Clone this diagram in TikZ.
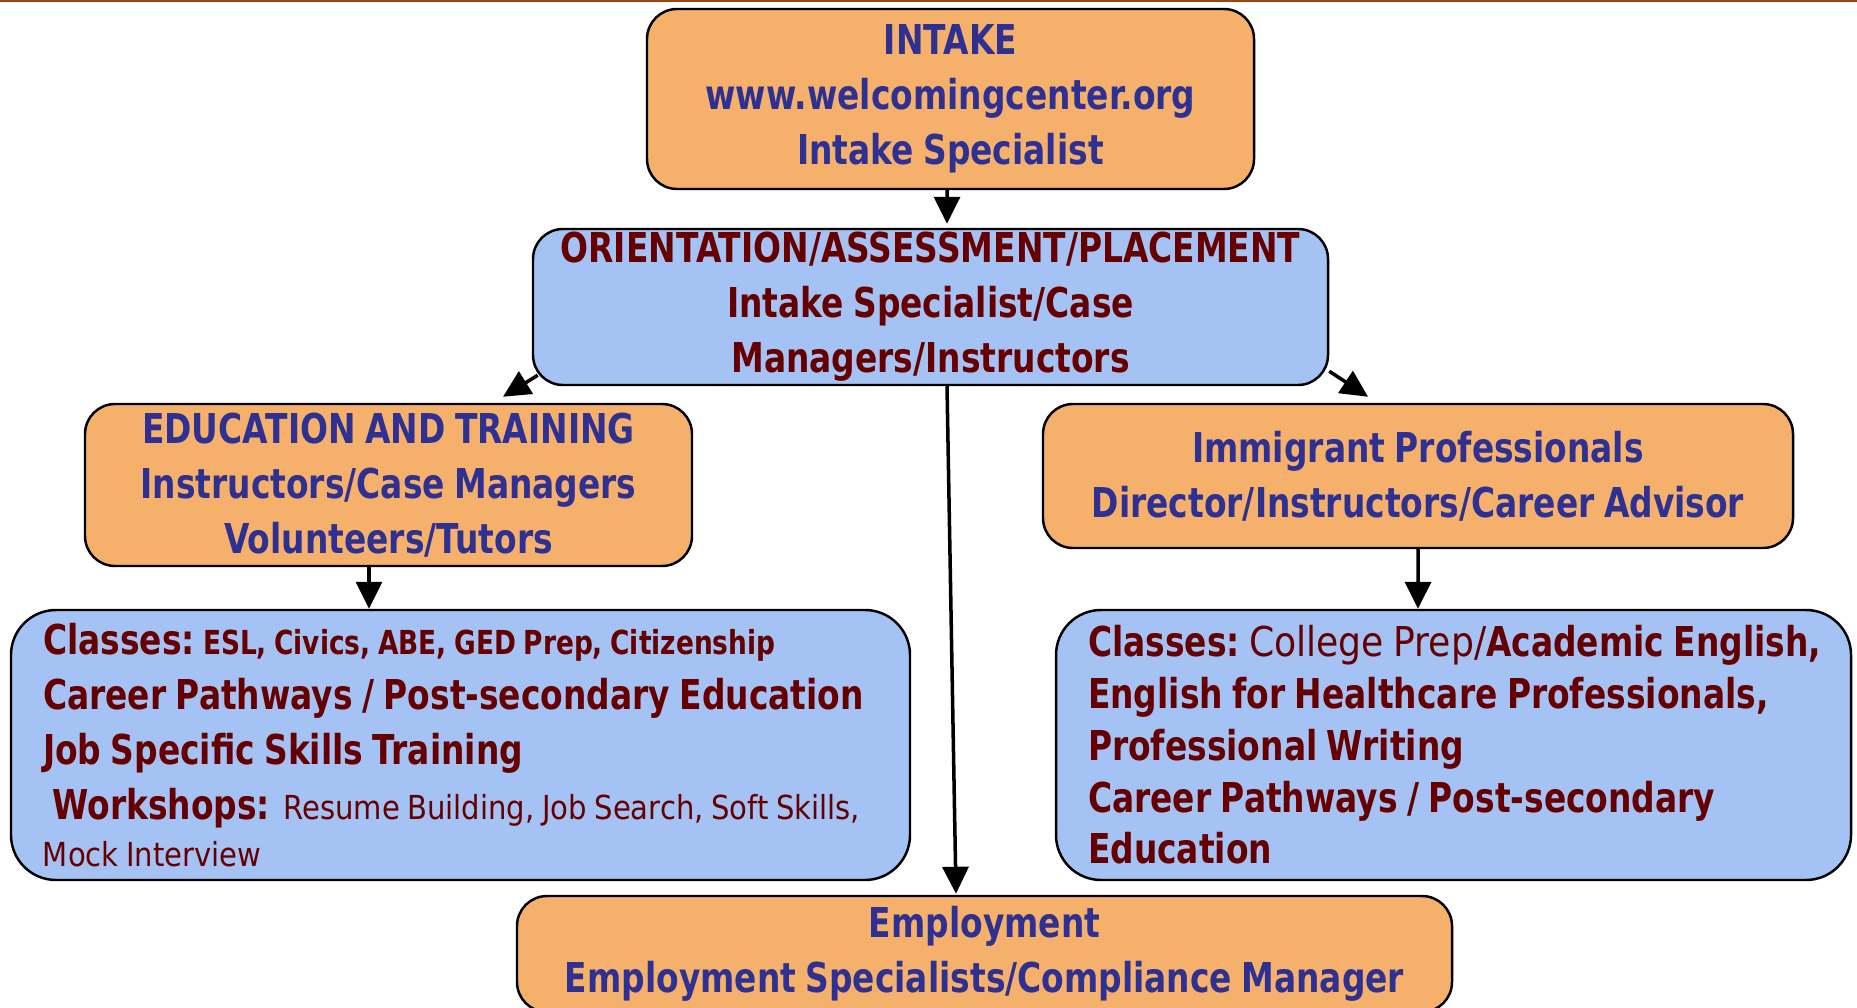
\documentclass[tikz,border=0pt]{standalone}
\usepackage{fontspec}
\setmainfont{DejaVu Sans}[WordSpace=0.82,
    UprightFeatures={FakeStretch=0.88},
    BoldFeatures={FakeStretch=0.80}]
\usetikzlibrary{arrows.meta,positioning,calc}
\definecolor{boxorange}{RGB}{245,177,108}
\definecolor{boxblue}{RGB}{164,194,244}
\definecolor{navytext}{RGB}{46,49,146}
\definecolor{maroontext}{RGB}{102,0,0}
\definecolor{rulebrown}{RGB}{150,72,20}
\newcommand{\bigtxt}{\fontsize{11.7pt}{15.6pt}\selectfont\bfseries}
\newcommand{\smalltxt}{\fontsize{9.4pt}{15.6pt}\selectfont}
\tikzset{
    %Define standard arrow tip
    >={Triangle[length=2.7mm,width=2.6mm]},
    %Define style for boxes
    orangebox/.style={
           rectangle, rounded corners=3mm,
           draw=black, line width=0.7pt,
           fill=boxorange, text=navytext,
           align=center, font=\bigtxt, inner sep=0pt},
    bluebox/.style={
           rectangle, rounded corners=3mm,
           draw=black, line width=0.7pt,
           fill=boxblue, text=maroontext,
           align=center, font=\bigtxt, inner sep=0pt},
    listbox/.style={
           bluebox, rounded corners=4.5mm, align=flush left,
           inner xsep=3.2mm,
           execute at begin node={\hyphenpenalty=10000\exhyphenpenalty=10000}},
    % Define arrow style
    arr/.style={
           ->,
           line width=1pt}
}

\begin{document}
\begin{tikzpicture}
	\useasboundingbox (0,0) rectangle (18.57,10.07);
	\draw[rulebrown, line width=0.3mm] (0,10.06) -- (18.57,10.06);

	% Top of the chart
	\node[orangebox, minimum width=6.07cm, minimum height=1.80cm](intake) at (9.505,9.08)
		{INTAKE\\www.welcomingcenter.org\\Intake Specialist};
	\node[bluebox, minimum width=7.95cm, minimum height=1.56cm](orient) at (9.305,7.00)
		{ORIENTATION/ASSESSMENT/PLACEMENT\\Intake Specialist/Case\\Managers/Instructors};

	% Second row
	\node[orangebox, minimum width=6.07cm, minimum height=1.62cm](edu) at (3.885,5.22)
		{EDUCATION AND TRAINING\\Instructors/Case Managers\\Volunteers/Tutors};
	\node[orangebox, minimum width=7.50cm, minimum height=1.44cm](immig) at (14.18,5.31)
		{Immigrant Professionals\\Director/Instructors/Career Advisor};

	% Class lists
	\node[listbox, text width=8.35cm, minimum height=2.70cm](lclass) at (4.605,2.62)
		{Classes:\hspace{-0.5mm} {\smalltxt\bfseries ESL, Civics, ABE, GED Prep, Citizenship}\\
		 Career Pathways / Post-secondary Education\\
		 Job Specific Skills Training\\
		 \ Workshops: {\smalltxt\mdseries Resume Building, Job Search, Soft Skills,}\\[-0.8mm]
		 {\smalltxt\mdseries Mock Interview}};
	\node[listbox, text width=7.31cm, minimum height=2.70cm](rclass) at (14.535,2.62)
		{\mbox{Classes:\hspace{-0.4mm} {\mdseries College Prep/}Academic English,}\\[-0.3mm]
		 English for Healthcare Professionals,\\[-0.3mm]
		 Professional Writing\\[-0.3mm]
		 Career Pathways / Post-secondary\\[-0.3mm]
		 Education};

	% Bottom
	\node[orangebox, minimum width=9.35cm, minimum height=1.16cm](employ) at (9.845,0.53)
		{Employment\\Employment Specialists/Compliance Manager};

	% Arrows
	\draw[arr] ([xshift=-0.35mm]intake.south) -- ([xshift=1.65mm,yshift=0.4mm]orient.north);
	\draw[arr] ([xshift=0.6mm,yshift=1.1mm]orient.south west) -- ([xshift=11.45mm,yshift=0.6mm]edu.north);
	\draw[arr] ([yshift=1.5mm]orient.south east) -- ([xshift=-5mm,yshift=0.6mm]immig.north);
	\draw[arr] ([xshift=1.65mm]orient.south) -- ([xshift=-2.85mm,yshift=0.1mm]employ.north);
	\draw[arr] ([xshift=-1.95mm]edu.south) -- ([xshift=-9.15mm]lclass.north);
	\draw[arr] (immig.south) -- ([xshift=-3.55mm]rclass.north);
\end{tikzpicture}
\end{document}
